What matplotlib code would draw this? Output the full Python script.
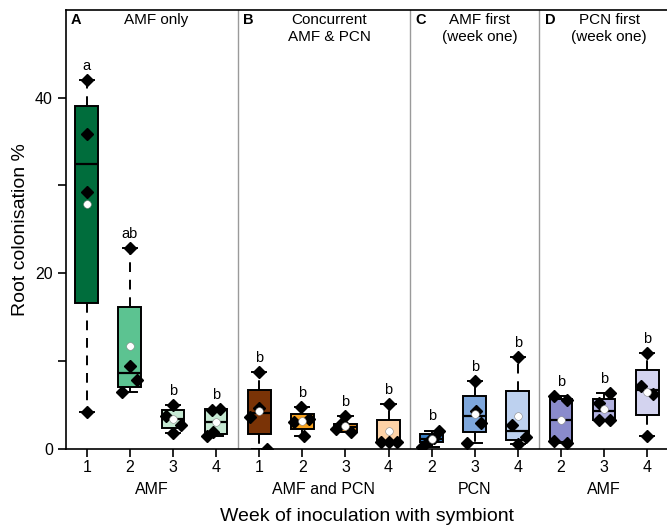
import numpy as np
from matplotlib import pyplot as plt

plt.rcParams['font.family'] = ['Liberation Sans', 'DejaVu Sans']

# weeks shown under each box, groups and labels
week_labels = ['1', '2', '3', '4', '1', '2', '3', '4', '2', '3', '4', '2', '3', '4']
group_names = ['AMF', 'AMF and PCN', 'PCN', 'AMF']
group_sizes = [4, 4, 3, 3]
panel_letters = ['A', 'B', 'C', 'D']
panel_titles = ['AMF only', 'Concurrent\nAMF & PCN', 'AMF first\n(week one)', 'PCN first\n(week one)']
sig_letters = ['a', 'ab', 'b', 'b', 'b', 'b', 'b', 'b', 'b', 'b', 'b', 'b', 'b', 'b']

# individual replicate values (root colonisation %)
points = [
    [42.0, 35.9, 29.2, 4.2],
    [22.9, 9.5, 7.8, 6.5],
    [5.0, 3.8, 2.7, 1.8],
    [4.6, 4.4, 1.9, 1.5],
    [8.8, 4.7, 3.6, 0.0],
    [4.8, 3.4, 3.05, 1.5],
    [3.7, 3.0, 2.3, 1.9],
    [5.1, 0.8, 0.8, 0.8],
    [2.1, 1.3, 0.9, 0.2],
    [7.7, 4.3, 2.95, 0.66],
    [10.5, 2.75, 1.4, 0.6],
    [6.0, 5.6, 0.9, 0.7],
    [6.4, 5.2, 3.35, 3.35],
    [10.9, 7.2, 6.3, 1.5],
]
# box statistics
q1 = [16.6, 7.1, 2.4, 1.7, 1.7, 2.3, 1.9, 0.8, 0.8, 1.9, 1.0, 0.8, 3.35, 3.9]
median = [32.5, 8.6, 3.4, 3.1, 4.1, 3.2, 2.5, 0.8, 1.15, 3.7, 2.1, 3.25, 4.3, 6.7]
q3 = [39.0, 16.2, 4.4, 4.6, 6.7, 4.0, 2.9, 3.25, 1.65, 6.0, 6.55, 5.7, 5.7, 9.0]
mean = [27.9, 11.7, 3.4, 3.1, 4.3, 3.2, 2.6, 2.1, 1.1, 4.0, 3.8, 3.3, 4.6, 6.5]

# horizontal scatter of the replicate markers (box units)
jitter = [
    [0, 0, 0, 0],
    [0, 0, 0.17, -0.18],
    [0, -0.16, 0.19, 0],
    [0.09, -0.09, -0.07, -0.21],
    [0, 0, -0.21, 0.18],
    [-0.02, 0.16, -0.19, 0.03],
    [0, -0.09, -0.21, 0.14],
    [0, -0.17, 0, 0.19],
    [0.17, 0.05, -0.05, -0.22],
    [0, 0.02, 0.15, -0.17],
    [0, -0.13, 0.19, 0],
    [-0.16, 0.14, -0.16, 0.14],
    [0.14, -0.12, -0.12, 0.14],
    [0, -0.14, 0.14, 0],
]

box_colors = ['#006d3c', '#5cc391', '#c5e8d2', '#c5e8d2',
              '#7a3306', '#f7a21f', '#ef9420', '#fdd2a6',
              '#3a7fc4', '#7ea7dc', '#bdd1ef',
              '#8a8bcc', '#b2b2e0', '#d3d3ef']


def build_stats():
    stats = []
    for i, pts in enumerate(points):
        stats.append({
            'med': median[i], 'q1': q1[i], 'q3': q3[i],
            'whislo': min(pts), 'whishi': max(pts), 'fliers': [],
            'mean': mean[i],
        })
    return stats


if __name__ == "__main__":
    fig = plt.figure(figsize=(6.67, 5.26), dpi=100)
    ax = fig.add_axes([0.099, 0.1464, 0.901, 0.835])

    pos = np.arange(len(points))
    bp = ax.bxp(build_stats(), positions=pos, widths=0.53, patch_artist=True,
                showmeans=False, showfliers=False, capwidths=0.33,
                boxprops=dict(linewidth=1.4, edgecolor='black'),
                medianprops=dict(color='black', linewidth=1.6),
                whiskerprops=dict(color='black', linewidth=1.4, linestyle=(0, (5, 4))),
                capprops=dict(color='black', linewidth=1.4))
    for patch, c in zip(bp['boxes'], box_colors):
        patch.set_facecolor(c)

    for i, pts in enumerate(points):
        xs = pos[i] + np.array(jitter[i])
        ax.plot(xs, pts, linestyle='none', marker='D', markersize=6.2,
                color='black', zorder=4)
        ax.plot(pos[i], mean[i], linestyle='none', marker='o', markersize=5.5,
                markerfacecolor='white', markeredgecolor='#888888',
                markeredgewidth=0.4, zorder=5)
        ax.text(pos[i], max(pts) + 1.6, sig_letters[i], ha='center', va='center',
                fontsize=10.5)

    # panel separators and titles
    edges = np.cumsum([0] + group_sizes) - 0.5
    for e in edges[1:-1]:
        ax.axvline(e, color='#9a9a9a', linewidth=1.0, zorder=0)
    for k in range(len(group_sizes)):
        lo, hi = edges[k], edges[k + 1]
        ax.text(lo + 0.12, 49.65, panel_letters[k], ha='left', va='top',
                fontsize=10.5, fontweight='bold')
        ax.text((lo + hi) / 2 + 0.12, 49.65, panel_titles[k], ha='center', va='top',
                fontsize=11, linespacing=1.3)
        ax.text((lo + hi) / 2, -4.6, group_names[k], ha='center', va='center',
                fontsize=11.5, clip_on=False)

    ax.set_xlim(-0.48, 13.46)
    ax.set_ylim(0, 50)
    ax.set_xticks(pos)
    ax.set_xticklabels(week_labels, fontsize=11.5)
    ax.set_yticks([0, 20, 40])
    ax.set_yticks([10, 30], minor=True)
    ax.tick_params(axis='y', labelsize=11.5, direction='out', length=6, width=1.2)
    ax.tick_params(axis='y', which='minor', direction='out', length=6, width=1.2)
    ax.tick_params(axis='x', direction='out', length=6, width=1.2, pad=2)
    ax.spines['right'].set_visible(False)
    for s in ['left', 'bottom', 'top']:
        ax.spines[s].set_linewidth(1.2)

    ax.set_ylabel('Root colonisation %', fontsize=14, labelpad=4)
    ax.set_xlabel('Week of inoculation with symbiont', fontsize=14, labelpad=24)

    plt.savefig('out.png', dpi=100)
    plt.close()
